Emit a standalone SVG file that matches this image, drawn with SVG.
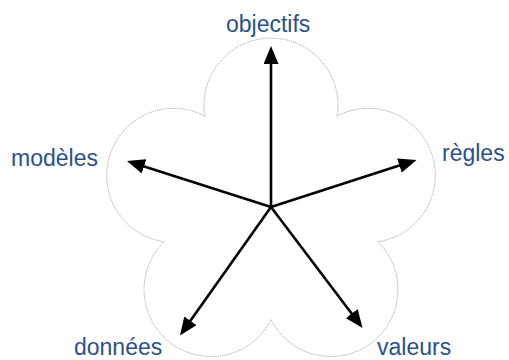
<svg xmlns="http://www.w3.org/2000/svg" width="509" height="360" viewBox="0 0 509 360">
<style>
.lbl{font-family:"Liberation Sans",Arial,sans-serif;font-size:23px;fill:#2B5189}
.arr{stroke:#000;stroke-width:2.6;fill:none;marker-end:url(#ah)}
.flower{fill:none;stroke:#9a9a9a;stroke-width:0.9;stroke-dasharray:1.2,1}
</style>
<defs>
<marker id="ah" markerUnits="userSpaceOnUse" markerWidth="18" markerHeight="15" refX="8" refY="7.5" orient="auto" viewBox="0 0 18 15">
<path d="M0,0 L18,7.5 L0,15 Z" fill="#000"/>
</marker>
</defs>
<g id="outline">
<path class="flower" d="M204.9,116.1 A67,67 0 1,1 337.1,116.1 A67,67 0 1,1 377.9,241.7 A67,67 0 1,1 271,319.4 A67,67 0 1,1 164.1,241.7 A67,67 0 1,1 204.9,116.1 Z"/>
</g>
<g id="connectors">
<line class="arr" x1="271" y1="207" x2="271" y2="56"/>
<line class="arr" x1="271" y1="207" x2="136.5" y2="164"/>
<line class="arr" x1="271" y1="207" x2="407" y2="163.1"/>
<line class="arr" x1="271" y1="207" x2="185.8" y2="327.3"/>
<line class="arr" x1="271" y1="207" x2="356.5" y2="320"/>
</g>
<g id="objectifs"><text class="lbl" x="226" y="32">objectifs</text></g>
<g id="modeles"><text class="lbl" x="11" y="166">modèles</text></g>
<g id="regles"><text class="lbl" x="442" y="161">règles</text></g>
<g id="donnees"><text class="lbl" x="74" y="355">données</text></g>
<g id="valeurs"><text class="lbl" x="377" y="355">valeurs</text></g>
</svg>
